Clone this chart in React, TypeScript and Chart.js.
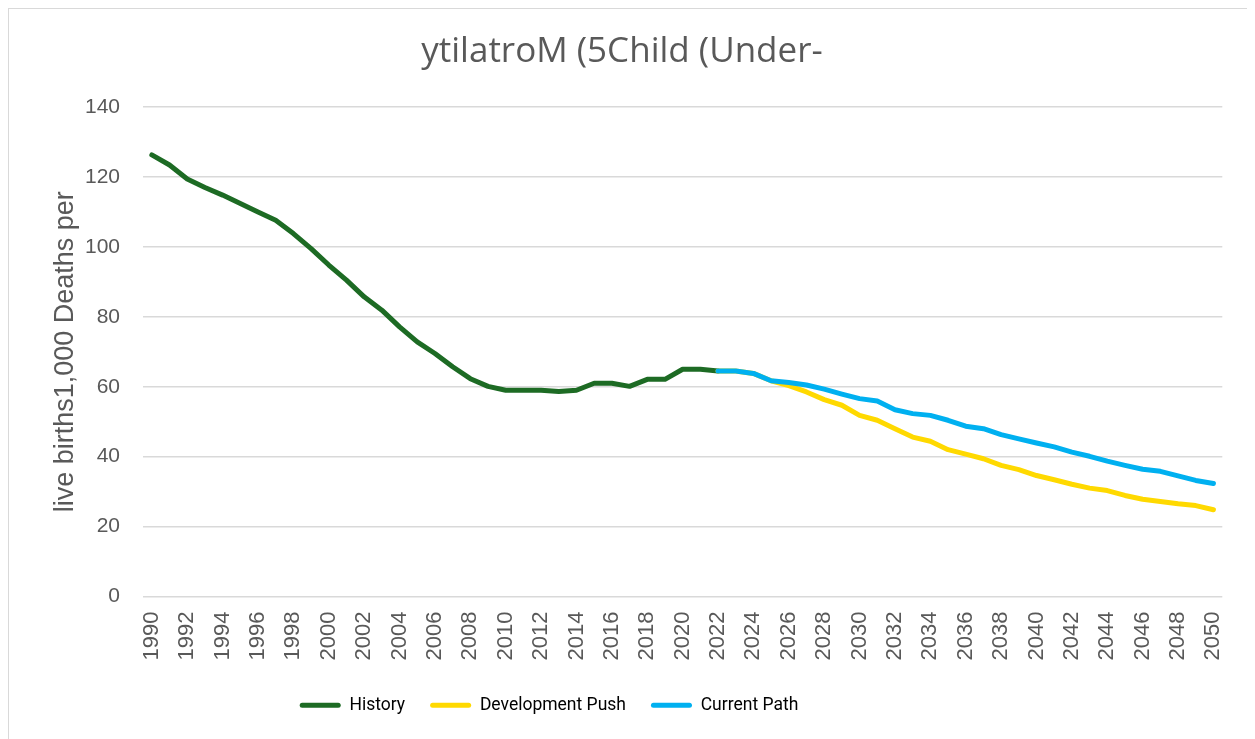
import React, { useEffect, useRef } from "react";
import { Chart, registerables } from "chart.js";

Chart.register(...registerables);

const years: string[] = [];
for (let y = 1990; y <= 2050; y++) years.push(String(y));

const historyValues: (number | null)[] = [
  126.3, 123.4, 119.4, 117.0, 114.8, 112.4, 110.0, 107.6, 103.8, 99.5,
  94.8, 90.5, 85.7, 81.9, 77.1, 72.8, 69.5, 65.7, 62.3, 60.1,
  59.0, 59.0, 59.0, 58.6, 59.0, 61.0, 61.0, 60.1, 62.1, 62.1,
  65.0, 65.0, 64.5,
];

// 2022 .. 2050
const developmentPushValues: number[] = [
  64.5, 64.5, 63.8, 61.7, 60.3, 58.5, 56.3, 54.7, 51.8, 50.4,
  48.0, 45.6, 44.4, 42.0, 40.7, 39.4, 37.5, 36.3, 34.6, 33.4,
  32.1, 31.0, 30.3, 28.9, 27.8, 27.2, 26.5, 26.0, 24.8,
];

// 2022 .. 2050
const currentPathValues: number[] = [
  64.5, 64.5, 63.8, 61.7, 61.2, 60.5, 59.3, 57.9, 56.6, 55.9,
  53.4, 52.3, 51.8, 50.4, 48.7, 48.0, 46.3, 45.1, 43.9, 42.8,
  41.3, 40.1, 38.7, 37.5, 36.4, 35.8, 34.5, 33.2, 32.3,
];

const yTicks = [0, 20, 40, 60, 80, 100, 120, 140];

const titleText = "ytilatroM (5Child (Under-";
const yAxisTitle = "live births1,000 Deaths per";

const pad = (arr: number[], startYear: number) => {
  const out: (number | null)[] = [];
  for (let y = 1990; y < startYear; y++) out.push(null);
  return out.concat(arr);
};

export default function App() {
  const ref = useRef<HTMLCanvasElement | null>(null);

  useEffect(() => {
    if (!ref.current) return;
    const shiftLegend = {
      id: "shiftLegend",
      afterLayout(chart: any) {
        const l = chart.legend;
        if (l) {
          l.left -= 73;
          l.right -= 73;
        }
      },
    };
    const chart = new Chart(ref.current, {
      type: "line",
      data: {
        labels: years,
        datasets: [
          {
            label: "History",
            data: historyValues,
            borderColor: "#1D6B24",
            backgroundColor: "#1D6B24",
            order: 3,
          },
          {
            label: "Development Push",
            data: pad(developmentPushValues, 2022),
            borderColor: "#FFD900",
            backgroundColor: "#FFD900",
            order: 2,
          },
          {
            label: "Current Path",
            data: pad(currentPathValues, 2022),
            borderColor: "#00B0F0",
            backgroundColor: "#00B0F0",
            order: 1,
          },
        ].map((d) => ({
          ...d,
          borderWidth: 5,
          pointRadius: 0,
          tension: 0,
          borderCapStyle: "round" as const,
          borderJoinStyle: "round" as const,
          spanGaps: false,
        })),
      },
      options: {
        responsive: false,
        animation: false,
        layout: { padding: { left: 0, right: 20, top: 0, bottom: 15 } },
        plugins: {
          title: {
            display: true,
            text: titleText,
            color: "#595959",
            font: { family: "Open Sans", size: 35, weight: "normal" },
            padding: { top: 22, bottom: 34 },
          },
          legend: {
            display: true,
            position: "bottom",
            labels: {
              boxWidth: 41,
              boxHeight: 5,
              useBorderRadius: true,
              borderRadius: 2.5,
              padding: 25,
              color: "#595959",
              font: { family: "Roboto", size: 17.5 },
              generateLabels: (c: any) =>
                c.data.datasets.map((ds: any, i: number) => ({
                  text: ds.label,
                  fillStyle: ds.borderColor,
                  strokeStyle: ds.borderColor,
                  lineWidth: 0,
                  datasetIndex: i,
                  hidden: false,
                  borderRadius: 2.5,
                })),
            },
          },
          tooltip: { enabled: false },
        },
        scales: {
          x: {
            offset: true,
            grid: { display: false, drawTicks: false },
            border: { display: false },
            ticks: {
              autoSkip: false,
              maxRotation: 90,
              minRotation: 90,
              padding: 15,
              color: "#595959",
              font: { family: "Liberation Sans", size: 22 },
              callback: function (this: any, value: any, index: number) {
                return index % 2 === 0 ? years[index] : null;
              },
            },
            afterFit: (scale: any) => {
              scale.height = 75;
            },
          },
          y: {
            min: 0,
            max: 140,
            afterBuildTicks: (scale: any) => {
              scale.ticks = yTicks.map((v) => ({ value: v }));
            },
            grid: { color: "#D9D9D9", lineWidth: 1.5, drawTicks: false },
            border: { display: false },
            ticks: {
              padding: 23,
              color: "#595959",
              font: { family: "Liberation Sans", size: 21 },
            },
            title: {
              display: true,
              text: yAxisTitle,
              color: "#595959",
              font: { family: "Liberation Sans", size: 27 },
              padding: { top: 40, bottom: 0 },
            },
            afterFit: (scale: any) => {
              scale.width = 134;
            },
          },
        },
      },
      plugins: [shiftLegend],
    });
    return () => chart.destroy();
  }, []);

  return (
    <div
      style={{
        width: 1246,
        height: 730,
        borderLeft: "1px solid #D9D9D9",
        borderTop: "1px solid #D9D9D9",
        background: "#fff",
      }}
    >
      <canvas ref={ref} width={1246} height={730} style={{ display: "block" }} />
    </div>
  );
}
